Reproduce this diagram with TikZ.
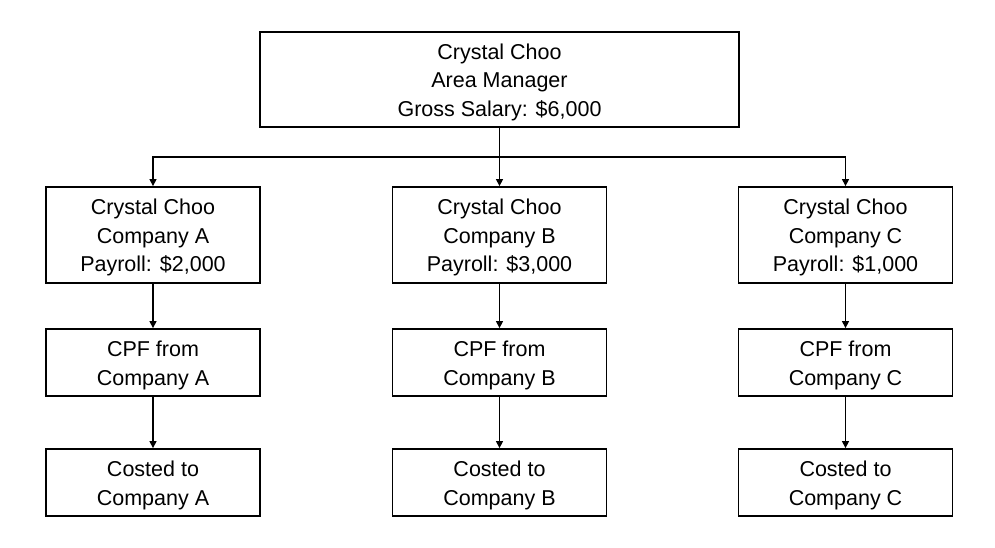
\documentclass[tikz,border=0pt]{standalone}
\usepackage{fontspec}
\setmainfont{Liberation Sans}
\usetikzlibrary{arrows.meta}
\newcommand{\tstrut}{\rule{0pt}{21pt}}
\begin{document}
\begin{tikzpicture}[x=1pt,y=-1pt,
  box/.style={draw=black,line width=1.8pt,rectangle,align=center,inner sep=0pt,
    font=\fontsize{21.5pt}{28.5pt}\selectfont},
  bigbox/.style={box,minimum width=479pt,minimum height=95pt},
  cobox/.style={box,minimum width=214pt,minimum height=96pt},
  smbox/.style={box,minimum width=214pt,minimum height=67pt},
  conn/.style={draw=black,line width=1.3pt},
  arr/.style={conn,-{Triangle[length=7pt,width=7pt]}}]
\useasboundingbox (0,0) rectangle (995,548);
\node[bigbox] (top) at (499.5,79.5) {\tstrut Crystal Choo\\Area Manager\\Gross Salary: \$6,000};
\node[cobox] (a1) at (153,235) {\tstrut Crystal Choo\\Company A\\Payroll: \$2,000};
\node[cobox] (b1) at (499.5,235) {\tstrut Crystal Choo\\Company B\\Payroll: \$3,000};
\node[cobox] (c1) at (845.5,235) {\tstrut Crystal Choo\\Company C\\Payroll: \$1,000};
\node[smbox] (a2) at (153,362.5) {\tstrut CPF from\\Company A};
\node[smbox] (b2) at (499.5,362.5) {\tstrut CPF from\\Company B};
\node[smbox] (c2) at (845.5,362.5) {\tstrut CPF from\\Company C};
\node[smbox] (a3) at (153,482.5) {\tstrut Costed to\\Company A};
\node[smbox] (b3) at (499.5,482.5) {\tstrut Costed to\\Company B};
\node[smbox] (c3) at (845.5,482.5) {\tstrut Costed to\\Company C};
\coordinate (j) at (499.5,157);
\draw[conn] (top.south) -- (j);
\draw[arr] (j) -| (a1.north);
\draw[arr] (j) -| (c1.north);
\draw[arr] (j) -- (b1.north);
\draw[arr] (a1) -- (a2);
\draw[arr] (b1) -- (b2);
\draw[arr] (c1) -- (c2);
\draw[arr] (a2) -- (a3);
\draw[arr] (b2) -- (b3);
\draw[arr] (c2) -- (c3);
\end{tikzpicture}
\end{document}
